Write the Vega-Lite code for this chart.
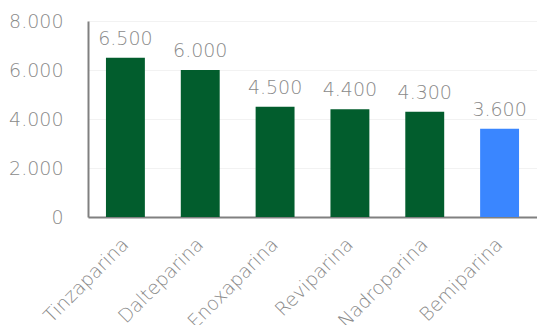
{
  "$schema": "https://vega.github.io/schema/vega-lite/v6.json",
  "autosize": "none",
  "width": 449,
  "height": 196,
  "padding": {"left": 88, "top": 21, "right": 0, "bottom": 108},
  "background": "white",
  "config": {
    "view": {"stroke": null},
    "font": "DejaVu Sans",
    "locale": {"number": {"decimal": ",", "thousands": ".", "grouping": [3], "currency": ["", " €"]}}
  },
  "data": {"values": [
    {"farmaco": "Tinzaparina", "valor": 6500, "grupo": "otros"},
    {"farmaco": "Dalteparina", "valor": 6000, "grupo": "otros"},
    {"farmaco": "Enoxaparina", "valor": 4500, "grupo": "otros"},
    {"farmaco": "Reviparina", "valor": 4400, "grupo": "otros"},
    {"farmaco": "Nadroparina", "valor": 4300, "grupo": "otros"},
    {"farmaco": "Bemiparina", "valor": 3600, "grupo": "bemiparina"}
  ]},
  "encoding": {
    "x": {"field": "farmaco", "type": "nominal", "sort": null,
      "scale": {"paddingInner": 0.48, "paddingOuter": 0.24},
      "axis": {"title": null, "labelAngle": -45, "labelAlign": "right", "labelBaseline": "middle", "labelPadding": 24, "ticks": false, "domainColor": "#808080", "domainWidth": 2, "labelColor": "#8a8a8a", "labelFontSize": 19, "labelFont": "DejaVu Sans", "labelFontWeight": 200, "grid": false}},
    "y": {"field": "valor", "type": "quantitative",
      "scale": {"domain": [0, 8000]},
      "axis": {"title": null, "values": [0, 2000, 4000, 6000, 8000], "format": ",d", "ticks": false, "labelPadding": 25, "domainColor": "#808080", "domainWidth": 2, "labelColor": "#8a8a8a", "labelFontSize": 19, "labelFont": "DejaVu Sans", "labelFontWeight": 200, "gridColor": "#f2f2f2", "gridWidth": 1}}
  },
  "layer": [
    {"mark": {"type": "bar"},
     "encoding": {"color": {"field": "grupo", "type": "nominal", "legend": null,
       "scale": {"domain": ["otros", "bemiparina"], "range": ["#025D2D", "#3A86FF"]}}}},
    {"mark": {"type": "text", "baseline": "alphabetic", "dy": -13, "fontSize": 19, "fontWeight": 200, "color": "#8a8a8a", "font": "DejaVu Sans"},
     "encoding": {"text": {"field": "valor", "type": "quantitative", "format": ",d"}}}
  ]
}
